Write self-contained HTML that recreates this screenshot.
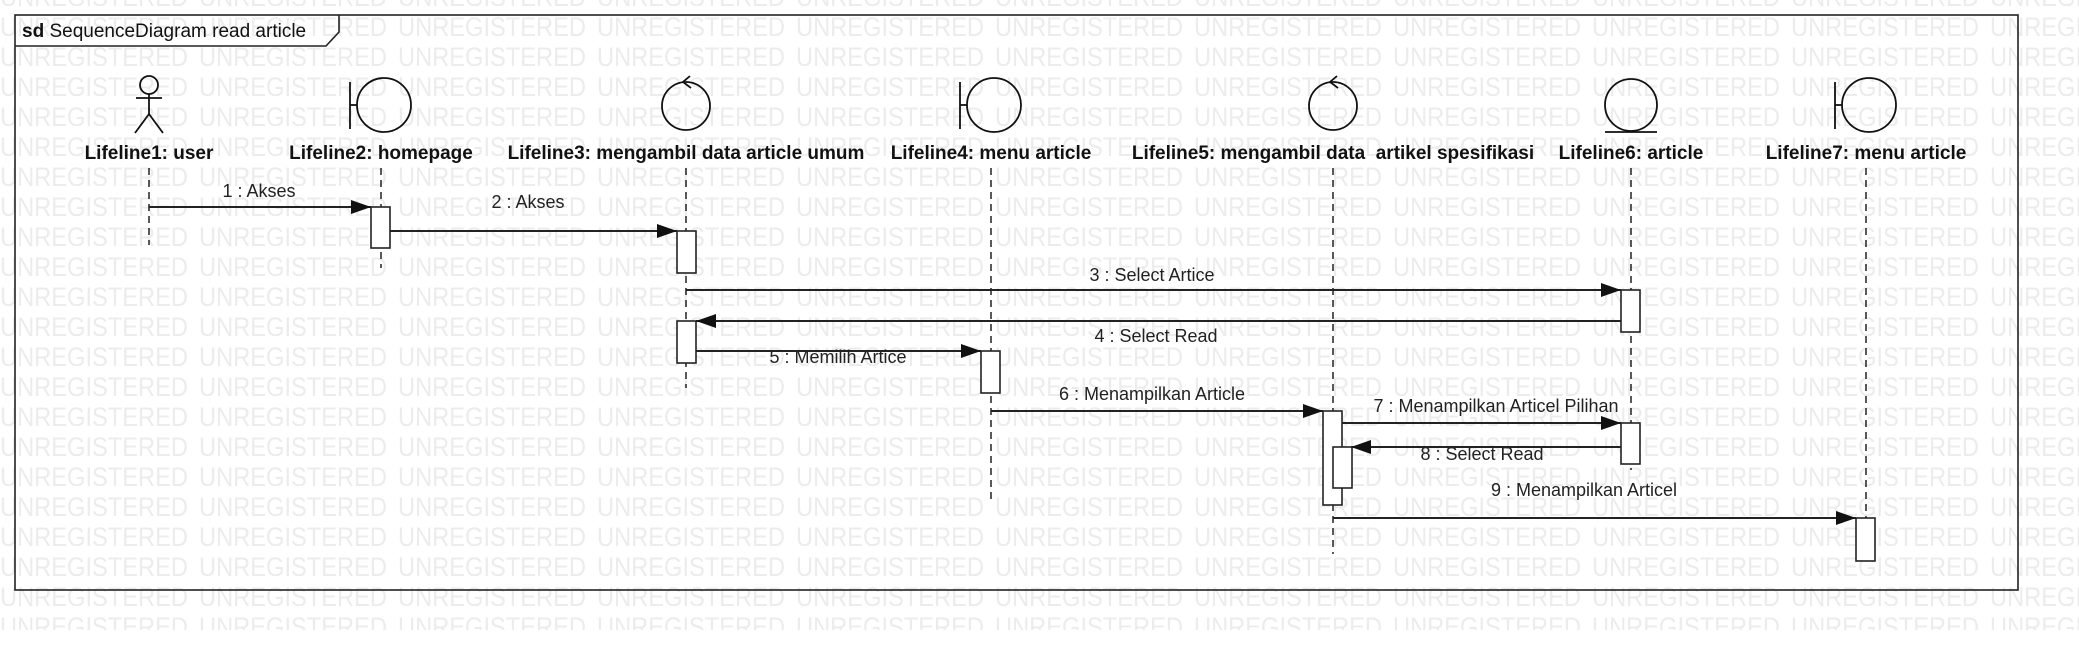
<!DOCTYPE html>
<html><head><meta charset="utf-8"><style>
html,body{margin:0;padding:0;background:#fff;}
svg{display:block;}
.wm{font-family:"Liberation Sans Narrow","Liberation Sans",sans-serif;font-size:27px;fill:#ececec;}
.lb{font-family:"Liberation Sans",sans-serif;font-size:19px;font-weight:bold;fill:#111;text-anchor:middle;}
.ms{font-family:"Liberation Sans",sans-serif;font-size:18px;fill:#222;text-anchor:middle;}
.ll{stroke:#222;stroke-width:1.5;stroke-dasharray:7,5;}
.ac{fill:#fff;stroke:#222;stroke-width:1.6;}
.m{stroke:#222;stroke-width:2;}
.ic{fill:none;stroke:#111;stroke-width:1.8;}
</style></head><body>
<svg width="2079" height="651" xmlns="http://www.w3.org/2000/svg">
<defs>
<pattern id="wmp" patternUnits="userSpaceOnUse" x="0" y="6" width="199" height="30">
<text class="wm" x="0" y="30" textLength="188" lengthAdjust="spacingAndGlyphs">UNREGISTERED</text>
</pattern>
</defs>
<rect x="0" y="0" width="2079" height="630" fill="url(#wmp)"/>
<!-- frame -->
<rect x="15" y="15" width="2003" height="575" fill="none" stroke="#222" stroke-width="1.6"/>
<path d="M15 46 H326 L339 32 V15" fill="none" stroke="#222" stroke-width="1.6"/>
<text x="22" y="37" font-family="Liberation Sans,sans-serif" font-size="19" fill="#111"><tspan font-weight="bold">sd</tspan> SequenceDiagram read article</text>

<!-- icons -->
<g class="ic">
<circle cx="149" cy="85" r="9"/><line x1="149" y1="94" x2="149" y2="114"/><line x1="136" y1="98" x2="162" y2="98"/><line x1="149" y1="114" x2="135" y2="133"/><line x1="149" y1="114" x2="163" y2="133"/>
<circle cx="384" cy="105" r="27"/><line x1="350" y1="82" x2="350" y2="129"/><line x1="350" y1="105" x2="357" y2="105"/>
<circle cx="686" cy="106" r="24"/><path d="M690 76 L683 82 L691 88"/>
<circle cx="994" cy="105" r="27"/><line x1="960" y1="82" x2="960" y2="129"/><line x1="960" y1="105" x2="967" y2="105"/>
<circle cx="1333" cy="106" r="24"/><path d="M1337 76 L1330 82 L1338 88"/>
<circle cx="1631" cy="105" r="26"/><line x1="1605" y1="132" x2="1657" y2="132"/>
<circle cx="1869" cy="105" r="27"/><line x1="1835" y1="82" x2="1835" y2="129"/><line x1="1835" y1="105" x2="1842" y2="105"/>
</g>

<!-- labels -->
<text class="lb" x="149" y="159">Lifeline1: user</text>
<text class="lb" x="381" y="159">Lifeline2: homepage</text>
<text class="lb" x="686" y="159">Lifeline3: mengambil data article umum</text>
<text class="lb" x="991" y="159">Lifeline4: menu article</text>
<text class="lb" x="1333" y="159" xml:space="preserve">Lifeline5: mengambil data  artikel spesifikasi</text>
<text class="lb" x="1631" y="159">Lifeline6: article</text>
<text class="lb" x="1866" y="159">Lifeline7: menu article</text>

<!-- lifelines -->
<line class="ll" x1="149" y1="168" x2="149" y2="245"/>
<line class="ll" x1="381" y1="168" x2="381" y2="268"/>
<line class="ll" x1="686" y1="168" x2="686" y2="388"/>
<line class="ll" x1="991" y1="168" x2="991" y2="501"/>
<line class="ll" x1="1333" y1="168" x2="1333" y2="554"/>
<line class="ll" x1="1631" y1="168" x2="1631" y2="470"/>
<line class="ll" x1="1866" y1="168" x2="1866" y2="518"/>

<!-- messages -->
<g class="m">
<line x1="149" y1="207" x2="371" y2="207"/>
<line x1="390" y1="231" x2="677" y2="231"/>
<line x1="686" y1="290" x2="1621" y2="290"/>
<line x1="1621" y1="321" x2="696" y2="321"/>
<line x1="696" y1="351" x2="981" y2="351"/>
<line x1="991" y1="411" x2="1323" y2="411"/>
<line x1="1342" y1="423" x2="1621" y2="423"/>
<line x1="1621" y1="447" x2="1351" y2="447"/>
<line x1="1333" y1="518" x2="1856" y2="518"/>
</g>
<g fill="#111">
<path d="M371 207 l-20 -7 v14z"/>
<path d="M677 231 l-20 -7 v14z"/>
<path d="M1621 290 l-20 -7 v14z"/>
<path d="M696 321 l20 -7 v14z"/>
<path d="M981 351 l-20 -7 v14z"/>
<path d="M1323 411 l-20 -7 v14z"/>
<path d="M1621 423 l-20 -7 v14z"/>
<path d="M1351 447 l20 -7 v14z"/>
<path d="M1856 518 l-20 -7 v14z"/>
</g>

<!-- activations -->
<rect class="ac" x="371" y="207" width="19" height="41"/>
<rect class="ac" x="677" y="231" width="19" height="42"/>
<rect class="ac" x="677" y="321" width="19" height="42"/>
<rect class="ac" x="1621" y="290" width="19" height="42"/>
<rect class="ac" x="1621" y="423" width="19" height="41"/>
<rect class="ac" x="981" y="351" width="19" height="42"/>
<rect class="ac" x="1323" y="411" width="19" height="94"/>
<rect class="ac" x="1333" y="447" width="19" height="41"/>
<rect class="ac" x="1856" y="518" width="19" height="43"/>

<!-- message labels -->
<text class="ms" x="259" y="197">1 : Akses</text>
<text class="ms" x="528" y="208">2 : Akses</text>
<text class="ms" x="1152" y="281">3 : Select Artice</text>
<text class="ms" x="1156" y="342">4 : Select Read</text>
<text class="ms" x="838" y="363">5 : Memilih Artice</text>
<text class="ms" x="1152" y="400">6 : Menampilkan Article</text>
<text class="ms" x="1496" y="412">7 : Menampilkan Articel Pilihan</text>
<text class="ms" x="1482" y="460">8 : Select Read</text>
<text class="ms" x="1584" y="496">9 : Menampilkan Articel</text>
</svg>
</body></html>
